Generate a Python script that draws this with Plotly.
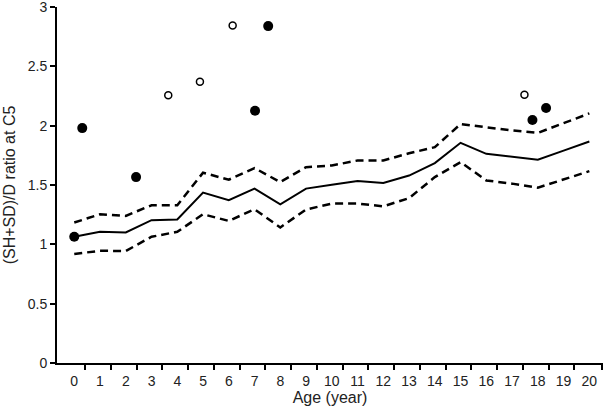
import plotly.graph_objects as go

ages = list(range(21))
mean_ratio = [1.064, 1.106, 1.100, 1.204, 1.210, 1.436, 1.372, 1.470, 1.338, 1.470, 1.503,
              1.534, 1.517, 1.580, 1.685, 1.856, 1.763, 1.738, 1.713, 1.790, 1.867]
upper_ratio = [1.184, 1.254, 1.240, 1.330, 1.330, 1.604, 1.545, 1.643, 1.525, 1.651, 1.665,
               1.707, 1.707, 1.768, 1.819, 2.015, 1.987, 1.960, 1.940, 2.020, 2.104]
lower_ratio = [0.919, 0.946, 0.944, 1.064, 1.106, 1.254, 1.198, 1.296, 1.143, 1.294, 1.344,
               1.344, 1.321, 1.390, 1.567, 1.693, 1.539, 1.512, 1.478, 1.550, 1.617]

filled_age = [0.0, 0.31, 2.4, 7.02, 7.53, 17.79, 18.32]
filled_ratio = [1.064, 1.98, 1.567, 2.127, 2.84, 2.049, 2.149]
open_age = [3.65, 4.88, 6.15, 17.48]
open_ratio = [2.258, 2.37, 2.845, 2.261]

x_tick_labels = [str(a) for a in ages]
y_ticks = [0, 0.5, 1, 1.5, 2, 2.5, 3]
y_tick_labels = ["0", "0.5", "1", "1.5", "2", "2.5", "3"]

font = "Liberation Sans, Arial, sans-serif"

fig = go.Figure()
fig.add_trace(go.Scatter(x=ages, y=upper_ratio, mode="lines",
                         line=dict(color="black", width=2.5, dash="8px,5px"), showlegend=False))
fig.add_trace(go.Scatter(x=ages, y=lower_ratio, mode="lines",
                         line=dict(color="black", width=2.5, dash="8px,5px"), showlegend=False))
fig.add_trace(go.Scatter(x=ages, y=mean_ratio, mode="lines",
                         line=dict(color="black", width=2), showlegend=False))
fig.add_trace(go.Scatter(x=filled_age, y=filled_ratio, mode="markers",
                         marker=dict(color="black", size=10), showlegend=False))
fig.add_trace(go.Scatter(x=open_age, y=open_ratio, mode="markers",
                         marker=dict(color="white", size=7, line=dict(color="black", width=1.5)),
                         showlegend=False))

fig.update_layout(
    width=604, height=410,
    margin=dict(l=57, r=1, t=7, b=47, autoexpand=False),
    paper_bgcolor="white", plot_bgcolor="white",
    font=dict(family=font, size=14, color="#222"),
    xaxis=dict(
        range=[-0.67, 20.53], showgrid=False, zeroline=False,
        showline=True, linecolor="black", linewidth=2,
        tickmode="array", tickvals=ages, ticktext=x_tick_labels,
        ticks="outside", ticklen=4, tickcolor="rgba(0,0,0,0)",
        tickfont=dict(size=14), ticklabeloverflow="allow",
        minor=dict(tickmode="array", tickvals=[a + 0.42 for a in ages[:-1]] + [20.5],
                   ticks="outside", ticklen=5, tickwidth=1.5, tickcolor="black", showgrid=False),
        title=dict(text="Age (year)", font=dict(size=16, color="#222"), standoff=2),
    ),
    yaxis=dict(
        range=[0, 3.001], showgrid=False, zeroline=False,
        showline=True, linecolor="black", linewidth=2,
        tickmode="array", tickvals=y_ticks, ticktext=y_tick_labels,
        ticks="outside", ticklen=5, tickwidth=1.5, tickcolor="black",
        tickfont=dict(size=14), ticklabeloverflow="allow",
        title=dict(text="(SH+SD)/D ratio at C5", font=dict(size=16, color="#222"), standoff=8),
    ),
)

fig.write_html("out.html", config={"displayModeBar": False},
               post_script="document.body.style.margin='0px';")
